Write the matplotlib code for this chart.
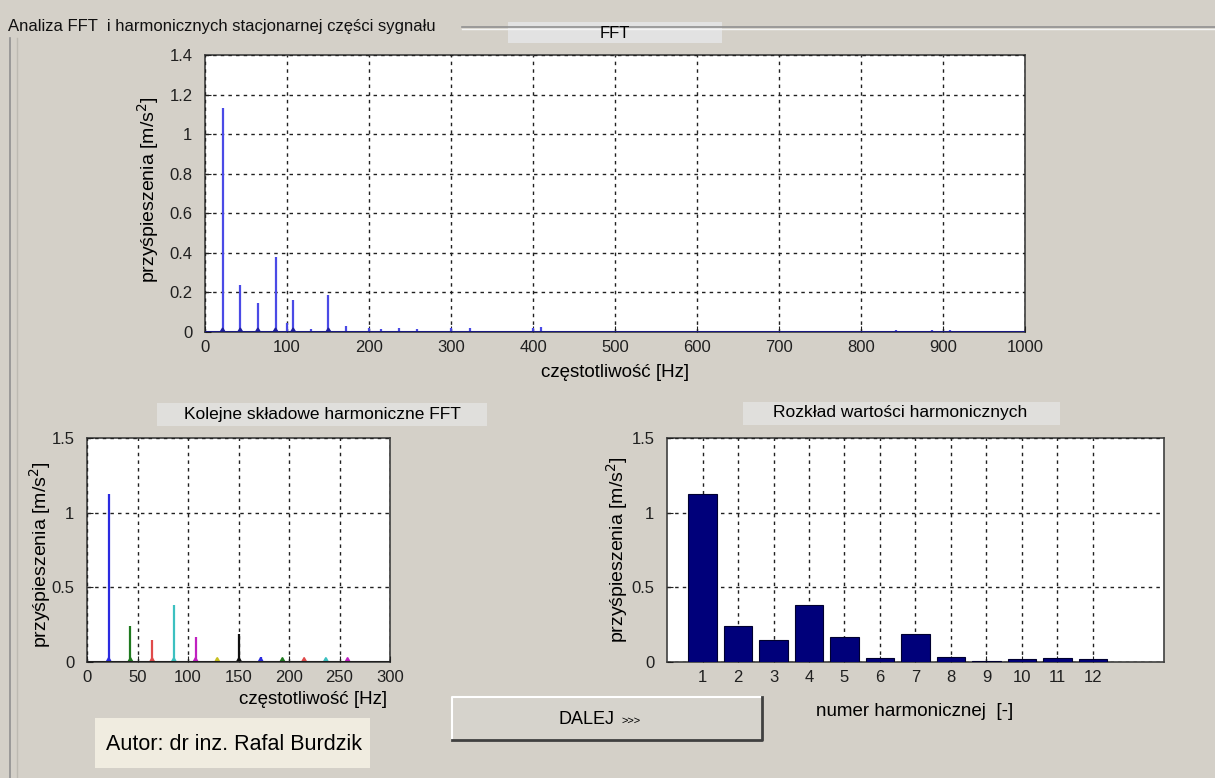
import matplotlib
matplotlib.use("Agg")
import matplotlib.pyplot as plt
from matplotlib.patches import Rectangle
from matplotlib.lines import Line2D

plt.rcParams['font.family'] = ['Liberation Sans', 'DejaVu Sans']

# --- data ---
fft_freq = [21.5, 43, 64.5, 86, 100, 107.5, 129, 150.5, 172, 200, 215, 236.5, 258,
            300, 323, 400, 410, 843, 886, 908]
fft_amp = [1.13, 0.24, 0.145, 0.378, 0.045, 0.16, 0.015, 0.185, 0.03, 0.02, 0.015,
           0.022, 0.015, 0.02, 0.022, 0.02, 0.025, 0.01, 0.012, 0.01]

harm_num = [1, 2, 3, 4, 5, 6, 7, 8, 9, 10, 11, 12]
harm_freq = [21.5, 43, 64.5, 86, 107.5, 129, 150.5, 172, 193.5, 215, 236.5, 258]
harm_amp = [1.127, 0.242, 0.147, 0.38, 0.169, 0.025, 0.185, 0.035, 0.007, 0.018, 0.025, 0.018]
harm_colors = ['#2a2ae0', '#1f7a1f', '#e04a4a', '#3cc0c0', '#c020c0', '#c8c020',
               '#101010', '#2a2ae0', '#1f7a1f', '#e04a4a', '#3cc0c0', '#c020c0']

fft_ticks = [0, 100, 200, 300, 400, 500, 600, 700, 800, 900, 1000]
fft_yticks = [0, 0.2, 0.4, 0.6, 0.8, 1.0, 1.2, 1.4]
fft_ylabels = ['0', '0.2', '0.4', '0.6', '0.8', '1', '1.2', '1.4']
low_ticks = [0, 50, 100, 150, 200, 250, 300]
small_yticks = [0, 0.5, 1.0, 1.5]
small_ylabels = ['0', '0.5', '1', '1.5']

BG = '#d4d0c8'
W, H = 1215, 778

fig = plt.figure(figsize=(12.15, 7.78), dpi=100, facecolor=BG)


def fx(px):
    return px / W


def fy(py):
    return 1 - py / H


def style_axes(ax):
    ax.set_facecolor('white')
    for s in ax.spines.values():
        s.set_color('#404040')
        s.set_linewidth(1.2)
    ax.tick_params(direction='in', length=4, labelsize=12, colors='#202020', pad=6)
    ax.grid(True, color='#202020', linestyle=(0, (2.5, 3)), linewidth=1.0)
    ax.set_axisbelow(False)


# --- group box frame ---
fig.add_artist(Line2D([fx(462), fx(1215)], [fy(27), fy(27)], color='#909090', lw=1.2))
fig.add_artist(Line2D([fx(462), fx(1215)], [fy(28.5), fy(28.5)], color='#f4f4f4', lw=1))
fig.add_artist(Line2D([fx(10), fx(10)], [fy(38), fy(778)], color='#909090', lw=1.2))
fig.add_artist(Line2D([fx(17), fx(17)], [fy(38), fy(778)], color='#bdbab2', lw=1))
fig.text(fx(8), fy(27), 'Analiza FFT  i harmonicznych stacjonarnej części sygnału',
         fontsize=12, ha='left', va='center', color='#101010')

# --- top FFT plot ---
ax1 = fig.add_axes([fx(205), fy(332), fx(820), (332 - 55) / H])
style_axes(ax1)
ax1.vlines(fft_freq, 0, fft_amp, color='#4a4ae6', lw=1.6, zorder=3)
for f, a in zip(fft_freq, fft_amp):
    if a > 0.1:
        ax1.fill([f - 3, f, f + 3], [0, 0.02, 0], color='#2020a0', zorder=3)
ax1.axhline(0, color='#1a1a80', lw=2.2, zorder=4)
ax1.set_xlim(0, 1000)
ax1.set_ylim(0, 1.4)
ax1.set_xticks(fft_ticks)
ax1.set_yticks(fft_yticks)
ax1.set_yticklabels(fft_ylabels)
ax1.tick_params(axis='y', pad=9)
fig.add_artist(Rectangle((fx(508), fy(43)), fx(214), 21 / H, transform=fig.transFigure,
                         facecolor='#e2e2e2', edgecolor='none'))
fig.text(fx(615), fy(33), 'FFT', fontsize=12, ha='center', va='center')
fig.text(fx(615), fy(372), 'częstotliwość [Hz]', fontsize=13.5, ha='center', va='center')
fig.text(fx(148), fy(190), 'przyśpieszenia [m/s$^2$]', fontsize=14, ha='center', va='center',
         rotation=90)

# --- bottom-left: harmonic components ---
ax2 = fig.add_axes([fx(87), fy(662), fx(303), (662 - 438) / H])
style_axes(ax2)
for f, a, c in zip(harm_freq, harm_amp, harm_colors):
    ax2.vlines(f, 0, a, color=c, lw=1.6, zorder=3)
    ax2.fill([f - 2.5, f, f + 2.5], [0, 0.03, 0], color=c, zorder=3)
ax2.axhline(0, color='#202020', lw=1.5, zorder=4)
ax2.set_xlim(0, 300)
ax2.set_ylim(0, 1.5)
ax2.set_xticks(low_ticks)
ax2.set_yticks(small_yticks)
ax2.set_yticklabels(small_ylabels)
ax2.tick_params(axis='y', pad=9)
fig.add_artist(Rectangle((fx(157), fy(426)), fx(330), 23 / H, transform=fig.transFigure,
                         facecolor='#e0dfdc', edgecolor='none'))
fig.text(fx(322), fy(414), 'Kolejne składowe harmoniczne FFT', fontsize=12.5,
         ha='center', va='center')
fig.text(fx(313), fy(700), 'częstotliwość [Hz]', fontsize=13.5, ha='center', va='center')
fig.text(fx(40), fy(555), 'przyśpieszenia [m/s$^2$]', fontsize=14, ha='center', va='center',
         rotation=90)

# --- bottom-right: harmonic bar chart ---
ax3 = fig.add_axes([fx(667), fy(662), fx(497), (662 - 438) / H])
style_axes(ax3)
ax3.bar(harm_num, harm_amp, width=0.8, color='#00007a', edgecolor='#000030', lw=0.8, zorder=3)
ax3.set_xlim(0, 14)
ax3.set_ylim(0, 1.5)
ax3.set_xticks(harm_num)
ax3.set_yticks(small_yticks)
ax3.set_yticklabels(small_ylabels)
ax3.tick_params(axis='y', pad=9)
fig.add_artist(Rectangle((fx(743), fy(425)), fx(317), 23 / H, transform=fig.transFigure,
                         facecolor='#e0dfdc', edgecolor='none'))
fig.text(fx(900), fy(413), 'Rozkład wartości harmonicznych', fontsize=12.5,
         ha='center', va='center')
fig.text(fx(915), fy(712), 'numer harmonicznej  [-]', fontsize=13.5, ha='center', va='center')
fig.text(fx(617), fy(550), 'przyśpieszenia [m/s$^2$]', fontsize=14, ha='center', va='center',
         rotation=90)

# --- button and author box ---
fig.add_artist(Rectangle((fx(452), fy(740)), fx(310), 43 / H, transform=fig.transFigure,
                         facecolor='#d6d3cc', edgecolor='none'))
fig.add_artist(Line2D([fx(452), fx(452), fx(762)], [fy(740), fy(697), fy(697)],
                      color='white', lw=1.5))
fig.add_artist(Line2D([fx(452), fx(762), fx(762)], [fy(740), fy(740), fy(697)],
                      color='#404040', lw=2))
fig.text(fx(587), fy(720), 'DALEJ', fontsize=13, ha='center', va='center')
fig.text(fx(631), fy(721), '>>>', fontsize=8, ha='center', va='center')

fig.add_artist(Rectangle((fx(95), fy(768)), fx(275), 50 / H, transform=fig.transFigure,
                         facecolor='#f0ece0', edgecolor='none'))
fig.text(fx(106), fy(745), 'Autor: dr inz. Rafal Burdzik', fontsize=15.5, ha='left', va='center')

fig.savefig('out.png', dpi=100, facecolor=BG)
